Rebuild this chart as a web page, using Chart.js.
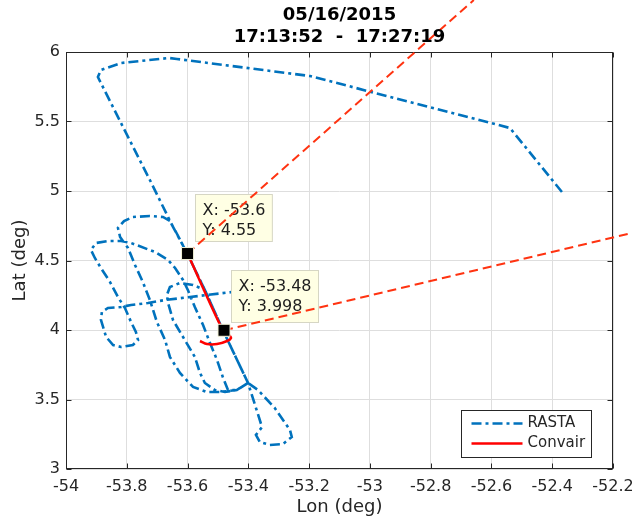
<!DOCTYPE html>
<html><head><meta charset="utf-8">
<script src="https://cdn.jsdelivr.net/npm/chart.js@4/dist/chart.umd.min.js"></script>
<style>html,body{margin:0;padding:0;background:#fff}canvas{display:block}</style>
</head><body>
<canvas id="c" width="632" height="521"></canvas>
<script>
// ---------- data ----------
const titleLines = ['05/16/2015', '17:13:52  -  17:27:19'];
const xTicks = [-54, -53.8, -53.6, -53.4, -53.2, -53, -52.8, -52.6, -52.4, -52.2];
const yTicks = [3, 3.5, 4, 4.5, 5, 5.5, 6];
const seriesNames = ['RASTA', 'Convair'];

const rastaLon = [
  -52.368, -52.539, -53.197, -53.635, -53.661, -53.819, -53.885, -53.895, -53.819, -53.724,
  -53.651, -53.602, -53.543, -53.484, -53.401, -53.355, -53.375, -53.362, -53.329, -53.286,
  -53.257, -53.263, -53.313, -53.368, -53.401,
  -53.438, -53.493, -53.536, -53.582, -53.625, -53.658, -53.674, -53.701, -53.724, -53.747,
  -53.773, -53.796, -53.822, -53.829, -53.809, -53.780, -53.724, -53.681, -53.658, -53.638,
  -53.602, -53.543, -53.484, -53.401,
  -53.438, -53.477, -53.510, -53.543, -53.559, -53.576, -53.609, -53.648, -53.664, -53.668,
  -53.658, -53.625, -53.582, -53.543, -53.484, -53.401,
  -53.438, -53.467, -53.484, -53.503, -53.526, -53.549, -53.576, -53.599, -53.615, -53.641,
  -53.664, -53.707, -53.786, -53.819, -53.862, -53.901, -53.918, -53.905, -53.885, -53.855,
  -53.829, -53.806, -53.786, -53.770, -53.763, -53.780, -53.819, -53.845, -53.868, -53.885,
  -53.882, -53.862, -53.819, -53.786, -53.730, -53.674, -53.592, -53.536, -53.454
];
const rastaLat = [
  4.993, 5.453, 5.827, 5.950, 5.957, 5.921, 5.871, 5.820, 5.489, 5.079,
  4.755, 4.554, 4.288, 4.000, 3.619, 3.302, 3.245, 3.194, 3.173, 3.180,
  3.230, 3.281, 3.439, 3.568, 3.619,
  3.568, 3.554, 3.554, 3.590, 3.691, 3.806, 3.928, 4.058, 4.216, 4.345,
  4.468, 4.590, 4.669, 4.734, 4.784, 4.813, 4.820, 4.813, 4.784, 4.705,
  4.554, 4.288, 4.000, 3.619,
  3.568, 3.554, 3.568, 3.619, 3.691, 3.806, 3.928, 4.072, 4.194, 4.252,
  4.309, 4.338, 4.324, 4.288, 4.000, 3.619,
  3.568, 3.568, 3.662, 3.784, 3.906, 4.036, 4.165, 4.288, 4.360, 4.446,
  4.504, 4.561, 4.626, 4.640, 4.640, 4.626, 4.576, 4.518, 4.446, 4.345,
  4.237, 4.158, 4.058, 3.986, 3.928, 3.892, 3.878, 3.892, 3.950, 4.072,
  4.129, 4.158, 4.165, 4.180, 4.194, 4.216, 4.237, 4.252, 4.273
];
const convairLon = [-53.600, -53.484, -53.464, -53.457, -53.470, -53.503, -53.536, -53.559];
const convairLat = [4.550, 3.998, 3.964, 3.942, 3.921, 3.899, 3.899, 3.921];
const markerLon = [-53.6, -53.48];
const markerLat = [4.55, 3.998];
const rayEndLon = [-52.658, -52.138];
const rayEndLat = [6.374, 4.698];

// ---------- helpers ----------
const FONT = '"DejaVu Sans", "Liberation Sans", sans-serif';
const AXC = '#262626';
const pts = (xs, ys) => xs.map((v, i) => ({x: v, y: ys[i]}));
const fmt = v => String(Number(v.toFixed(3)));

const boxPlugin = {
  id: 'box',
  beforeDatasetsDraw(chart) {
    const {ctx, chartArea: a, scales: {x, y}} = chart;
    const L = Math.round(a.left) + 0.5, R = Math.round(a.right) - 0.5;
    const T = Math.round(a.top) + 0.5, B = Math.round(a.bottom) - 0.5;
    ctx.save();
    ctx.strokeStyle = AXC; ctx.lineWidth = 1;
    ctx.beginPath();
    xTicks.forEach(v => {
      const p = Math.round(x.getPixelForValue(v)) + 0.5;
      ctx.moveTo(p, B); ctx.lineTo(p, B - 5);
      ctx.moveTo(p, T); ctx.lineTo(p, T + 5);
    });
    yTicks.forEach(v => {
      const p = Math.round(y.getPixelForValue(v)) + 0.5;
      ctx.moveTo(L, p); ctx.lineTo(L + 5, p);
      ctx.moveTo(R, p); ctx.lineTo(R - 5, p);
    });
    ctx.stroke();
    ctx.strokeRect(L, T, R - L, B - T);
    ctx.restore();
  }
};

const titlePlugin = {
  id: 'ttl',
  afterDraw(chart) {
    const {ctx, chartArea: a} = chart;
    ctx.save();
    ctx.fillStyle = '#000';
    ctx.font = 'bold 18px ' + FONT;
    ctx.textAlign = 'center'; ctx.textBaseline = 'middle';
    const cx = (a.left + a.right) / 2;
    ctx.fillText(titleLines[0], cx, a.top - 37);
    ctx.fillText(titleLines[1], cx, a.top - 15);
    ctx.restore();
  }
};

const tipPlugin = {
  id: 'tips',
  afterDatasetDraw(chart, args) {
    if (args.index !== 1) return;
    const {ctx, scales: {x, y}} = chart;
    const heights = [47, 52];
    ctx.save();
    ctx.font = '16px ' + FONT;
    markerLon.forEach((lon, i) => {
      const px = x.getPixelForValue(lon), py = y.getPixelForValue(markerLat[i]);
      const l1 = 'X: ' + fmt(lon), l2 = 'Y: ' + fmt(markerLat[i]);
      const w = Math.max(ctx.measureText(l1).width, ctx.measureText(l2).width) + 14;
      const bx = Math.round(px + 7) + 0.5, by = Math.round(py - 60) + 0.5;
      ctx.fillStyle = '#ffffe4';
      ctx.strokeStyle = '#d6d6c4';
      ctx.lineWidth = 1;
      ctx.fillRect(bx, by, w, heights[i]);
      ctx.strokeRect(bx, by, w, heights[i]);
      ctx.fillStyle = '#1e1e1e';
      ctx.textAlign = 'left'; ctx.textBaseline = 'middle';
      ctx.fillText(l1, bx + 7, by + 16);
      ctx.fillText(l2, bx + 7, by + 36);
    });
    ctx.restore();
  }
};

const legendPlugin = {
  id: 'lgd',
  afterDraw(chart) {
    const {ctx, chartArea: a} = chart;
    const ds = chart.data.datasets;
    const w = 130, h = 47;
    const bx = Math.round(a.right - 22 - w) + 0.5, by = Math.round(a.bottom - 12 - h) + 0.5;
    ctx.save();
    ctx.fillStyle = '#fff'; ctx.fillRect(bx, by, w, h);
    ctx.strokeStyle = AXC; ctx.lineWidth = 1; ctx.strokeRect(bx, by, w, h);
    ctx.font = '15px ' + FONT; ctx.textBaseline = 'middle'; ctx.textAlign = 'left';
    [0, 1].forEach(i => {
      const yy = by + 13 + i * 20;
      ctx.save();
      ctx.strokeStyle = ds[i].borderColor; ctx.lineWidth = ds[i].borderWidth;
      ctx.setLineDash(ds[i].borderDash || []);
      ctx.beginPath(); ctx.moveTo(bx + 10, yy); ctx.lineTo(bx + 61, yy); ctx.stroke();
      ctx.restore();
      ctx.fillStyle = AXC;
      ctx.fillText(seriesNames[i], bx + 66, yy);
    });
    ctx.restore();
  }
};

new Chart(document.getElementById('c'), {
  type: 'scatter',
  data: {
    datasets: [
      {label: seriesNames[0], data: pts(rastaLon, rastaLat), showLine: true, pointRadius: 0,
       borderColor: '#0072BD', borderWidth: 2.6, borderDash: [10, 4, 3, 4], order: 4, tension: 0},
      {label: seriesNames[1], data: pts(convairLon, convairLat), showLine: true, pointRadius: 0,
       borderColor: '#ff0000', borderWidth: 2.5, order: 3, tension: 0.3},
      {label: 'ray1', data: [{x: markerLon[0], y: markerLat[0]}, {x: rayEndLon[0], y: rayEndLat[0]}],
       showLine: true, pointRadius: 0, borderColor: '#ff3311', borderWidth: 2, borderDash: [9, 5], order: 2, clip: false},
      {label: 'ray2', data: [{x: markerLon[1], y: markerLat[1]}, {x: rayEndLon[1], y: rayEndLat[1]}],
       showLine: true, pointRadius: 0, borderColor: '#ff3311', borderWidth: 2, borderDash: [9, 5], order: 2, clip: false},
      {label: 'tips', data: pts(markerLon, markerLat), showLine: false, pointStyle: 'rect',
       pointRadius: 8.5, backgroundColor: '#000', borderColor: '#f2f2d8', borderWidth: 1, order: 1, clip: false}
    ]
  },
  options: {
    responsive: false, animation: false, devicePixelRatio: 1,
    layout: {padding: {top: 52, right: 19, left: 0, bottom: 0}},
    plugins: {legend: {display: false}, tooltip: {enabled: false}, title: {display: false}},
    scales: {
      x: {
        type: 'linear', min: -54, max: -52.2,
        afterBuildTicks: s => { s.ticks = xTicks.map(v => ({value: v})); },
        afterFit: s => { s.height = 52; s.paddingLeft = 0; s.paddingRight = 0; },
        ticks: {callback: v => fmt(v), font: {family: FONT, size: 16}, color: AXC, padding: 8, maxRotation: 0, autoSkip: false},
        grid: {color: '#dedede', drawTicks: false, lineWidth: 1},
        border: {display: false},
        title: {display: true, text: 'Lon (deg)', font: {family: FONT, size: 18}, color: AXC, padding: {top: 0, bottom: 3}}
      },
      y: {
        type: 'linear', min: 3, max: 6,
        afterBuildTicks: s => { s.ticks = yTicks.map(v => ({value: v})); },
        afterFit: s => { s.width = 66; s.paddingTop = 0; s.paddingBottom = 0; },
        ticks: {callback: v => fmt(v), font: {family: FONT, size: 16}, color: AXC, padding: 6, autoSkip: false},
        grid: {color: '#dedede', drawTicks: false, lineWidth: 1},
        border: {display: false},
        title: {display: true, text: 'Lat (deg)', font: {family: FONT, size: 18}, color: AXC, padding: {top: 10, bottom: 0}}
      }
    }
  },
  plugins: [boxPlugin, tipPlugin, titlePlugin, legendPlugin]
});
</script>
</body></html>
